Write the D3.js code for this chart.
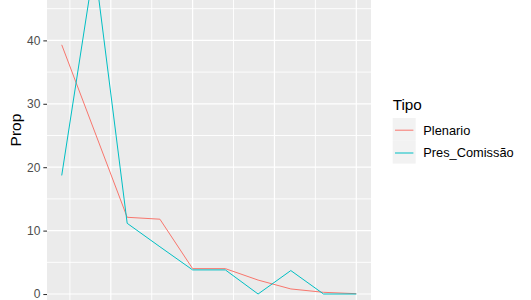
<!DOCTYPE html>
<html><head><meta charset="utf-8">
<script src="https://cdn.jsdelivr.net/npm/d3@7"></script>
<style>body{margin:0;background:#fff}svg{display:block}text{font-family:"Liberation Sans",Arial,sans-serif}</style>
</head><body>
<svg id="c" width="531" height="300"></svg>
<script>
const xValues = [1,2,3,4,5,6,7,8,9,10];
const plenario = [39.3,25.7,12.1,11.8,4.0,4.0,2.2,0.8,0.27,0.05];
const presComissao = [18.7,52.0,11.15,7.45,3.8,3.8,0,3.7,0,0];
const seriesNames = ["Plenario","Pres_Comissão"];
const seriesColors = ["#F8766D","#00BFC4"];
const yTicks = [0,10,20,30,40];
const yMinor = [5,15,25,35,45];
const xMajor = [2.5,5,7.5,10];
const xMinor = [1.25,3.75,6.25,8.75];

const svg = d3.select("#c");
const L=47, R=371;
const xr=[d3.min(xValues),d3.max(xValues)], xpad=(xr[1]-xr[0])*0.05;
const x=d3.scaleLinear().domain([xr[0]-xpad,xr[1]+xpad]).range([L,R]);
const ymax=d3.max(plenario.concat(presComissao)), ypad=ymax*0.05;
const y=d3.scaleLinear().domain([-ypad,ymax+ypad]).range([310.5,-52.2]);

svg.append("rect").attr("x",L).attr("y",y.range()[1]).attr("width",R-L).attr("height",y.range()[0]-y.range()[1]).attr("fill","#EBEBEB");
const g=svg.append("g");
yMinor.forEach(v=>g.append("line").attr("x1",L).attr("x2",R).attr("y1",y(v)).attr("y2",y(v)).attr("stroke","#fff").attr("stroke-width",0.9));
xMinor.forEach(v=>g.append("line").attr("y1",-60).attr("y2",320).attr("x1",x(v)).attr("x2",x(v)).attr("stroke","#fff").attr("stroke-width",0.9));
yTicks.forEach(v=>g.append("line").attr("x1",L).attr("x2",R).attr("y1",y(v)).attr("y2",y(v)).attr("stroke","#fff").attr("stroke-width",1.2));
xMajor.forEach(v=>g.append("line").attr("y1",-60).attr("y2",320).attr("x1",x(v)).attr("x2",x(v)).attr("stroke","#fff").attr("stroke-width",1.2));

const line=d3.line().x((d,i)=>x(xValues[i])).y(d=>y(d));
[plenario,presComissao].forEach((s,k)=>{
  svg.append("path").attr("d",line(s)).attr("fill","none").attr("stroke",seriesColors[k]).attr("stroke-width",1.0);
});

// y axis
const ya=svg.append("g").attr("transform",`translate(${L},0)`).call(d3.axisLeft(y).tickValues(yTicks).tickSize(3.67).tickPadding(2.9));
ya.select(".domain").remove();
ya.selectAll(".tick line").attr("stroke","#333").attr("stroke-width",1.07);
ya.selectAll(".tick text").attr("fill","#4D4D4D").attr("font-size","12px").attr("font-family","Liberation Sans, Arial, sans-serif");

svg.append("text").attr("transform","translate(21,130) rotate(-90)").attr("text-anchor","middle")
  .attr("font-size","15.5px").attr("fill","#000").text("Prop");

// legend
const lg=svg.append("g");
lg.append("text").attr("x",392.7).attr("y",110).attr("font-size","15.3px").attr("fill","#000").text("Tipo");
seriesNames.forEach((n,k)=>{
  const top=118+k*22.8;
  lg.append("rect").attr("x",392.7).attr("y",top).attr("width",23).attr("height",22.8).attr("fill","#F2F2F2");
  lg.append("line").attr("x1",395).attr("x2",413.4).attr("y1",top+12.2).attr("y2",top+12.2).attr("stroke",seriesColors[k]).attr("stroke-width",1.0);
  lg.append("text").attr("x",423.3).attr("y",top+12.2).attr("dy","0.35em").attr("font-size","12.8px").attr("fill","#000").text(n);
});
</script>
</body></html>
